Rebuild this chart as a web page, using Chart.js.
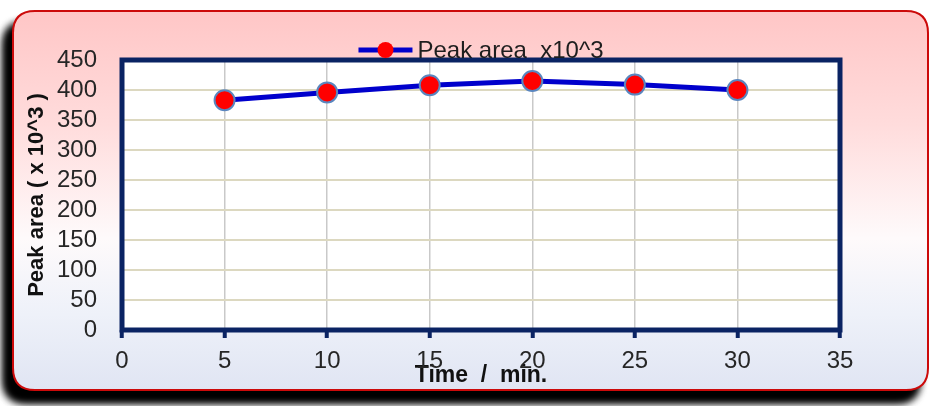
<!DOCTYPE html>
<html>
<head>
<meta charset="utf-8">
<script src="https://cdn.jsdelivr.net/npm/chart.js@4.4.1/dist/chart.umd.min.js"></script>
<style>
  html, body { margin: 0; padding: 0; background: #ffffff; }
  #wrap { width: 930px; height: 406px; position: relative; }
</style>
</head>
<body>
<div id="wrap"><canvas id="c" width="930" height="406"></canvas></div>
<script>
// Sampling times (min) and measured peak areas (x10^3)
const timeMinutes = [5, 10, 15, 20, 25, 30];
const peakArea = [383, 396, 408, 415, 409, 400];

// Axis tick values
const xTickValues = [0, 5, 10, 15, 20, 25, 30, 35];
const yTickValues = [0, 50, 100, 150, 200, 250, 300, 350, 400, 450];

// Text
const seriesLabel = 'Peak area  x10^3';
const xAxisTitle = 'Time  /  min.';
const yAxisTitle = 'Peak area ( x 10^3 )';

const NAVY = '#0a2363';
const TICK_FONT = { family: "'Liberation Sans', Arial, sans-serif", size: 24 };

function roundRect(ctx, x, y, w, h, r) {
  ctx.beginPath();
  ctx.moveTo(x + r, y);
  ctx.lineTo(x + w - r, y);
  ctx.quadraticCurveTo(x + w, y, x + w, y + r);
  ctx.lineTo(x + w, y + h - r);
  ctx.quadraticCurveTo(x + w, y + h, x + w - r, y + h);
  ctx.lineTo(x + r, y + h);
  ctx.quadraticCurveTo(x, y + h, x, y + h - r);
  ctx.lineTo(x, y + r);
  ctx.quadraticCurveTo(x, y, x + r, y);
  ctx.closePath();
}

// Panel background, plot frame and legend
const framePlugin = {
  id: 'frame',
  beforeDraw(chart) {
    const ctx = chart.ctx;
    const bx = 13, by = 11, bw = 915, bh = 379, br = 22;
    ctx.save();
    // drop shadow (lower-left)
    ctx.shadowColor = 'rgba(0,0,0,1)';
    ctx.shadowBlur = 9;
    ctx.shadowOffsetX = -9;
    ctx.shadowOffsetY = 12;
    roundRect(ctx, bx, by, bw, bh, br);
    ctx.fillStyle = '#000';
    ctx.fill();
    ctx.fill();
    ctx.restore();

    ctx.save();
    const g = ctx.createLinearGradient(0, by, 0, by + bh);
    g.addColorStop(0, '#ffc6c6');
    g.addColorStop(0.3, '#ffdcdc');
    g.addColorStop(0.6, '#fefafb');
    g.addColorStop(0.8, '#eef1f9');
    g.addColorStop(1, '#e0e5f3');
    roundRect(ctx, bx, by, bw, bh, br);
    ctx.fillStyle = g;
    ctx.fill();
    ctx.lineWidth = 2;
    ctx.strokeStyle = '#cc0a0a';
    ctx.stroke();

    const a = chart.chartArea;
    ctx.fillStyle = '#ffffff';
    ctx.fillRect(a.left, a.top, a.right - a.left, a.bottom - a.top);
    ctx.restore();
  },
  beforeDatasetsDraw(chart) {
    const ctx = chart.ctx;
    const a = chart.chartArea;
    ctx.save();
    ctx.lineWidth = 5;
    ctx.strokeStyle = NAVY;
    ctx.strokeRect(a.left, a.top, a.right - a.left, a.bottom - a.top);
    ctx.restore();
  },
  afterDraw(chart) {
    const ctx = chart.ctx;
    const a = chart.chartArea;
    const ds = chart.data.datasets[0];
    ctx.save();
    ctx.font = "24px 'Liberation Sans', Arial, sans-serif";
    const lineLen = 54, gap = 5;
    const textW = ctx.measureText(ds.label).width;
    const total = lineLen + gap + textW;
    const x0 = (a.left + a.right) / 2 - total / 2;
    const y0 = 50;
    ctx.strokeStyle = ds.borderColor;
    ctx.lineWidth = 5;
    ctx.beginPath();
    ctx.moveTo(x0, y0);
    ctx.lineTo(x0 + lineLen, y0);
    ctx.stroke();
    ctx.beginPath();
    ctx.arc(x0 + lineLen / 2, y0, 8, 0, Math.PI * 2);
    ctx.fillStyle = ds.pointBackgroundColor;
    ctx.fill();
    ctx.fillStyle = '#1e1e1e';
    ctx.textBaseline = 'middle';
    ctx.fillText(ds.label, x0 + lineLen + gap, y0 + 1);
    ctx.restore();
  }
};

new Chart(document.getElementById('c'), {
  type: 'line',
  data: {
    datasets: [{
      label: seriesLabel,
      data: timeMinutes.map((t, i) => ({ x: t, y: peakArea[i] })),
      borderColor: '#0000cc',
      borderWidth: 5,
      pointBackgroundColor: '#ff0000',
      pointBorderColor: '#5a86bf',
      pointBorderWidth: 2,
      pointRadius: 10,
      tension: 0
    }]
  },
  options: {
    responsive: false,
    devicePixelRatio: 1,
    animation: false,
    layout: { padding: { top: 60, right: 90, left: 0, bottom: 0 } },
    plugins: { legend: { display: false }, tooltip: { enabled: false } },
    scales: {
      x: {
        type: 'linear',
        min: 0,
        max: 35,
        afterBuildTicks(s) { s.ticks = xTickValues.map(v => ({ value: v })); },
        afterFit(s) { s.height = 76; },
        border: { display: false },
        grid: {
          color: '#c9c9c9',
          lineWidth: 1.5,
          drawTicks: true,
          tickLength: 8,
          tickColor: NAVY,
          tickWidth: 4
        },
        ticks: { font: TICK_FONT, color: '#262626', padding: 9, maxRotation: 0, autoSkip: false },
        title: {
          display: true,
          text: xAxisTitle,
          font: { family: "'Liberation Sans', Arial, sans-serif", size: 23, weight: 'bold' },
          color: '#111',
          padding: { top: 0, bottom: 17 }
        }
      },
      y: {
        min: 0,
        max: 450,
        afterBuildTicks(s) { s.ticks = yTickValues.map(v => ({ value: v })); },
        afterFit(s) { s.width = 122; },
        border: { display: false },
        grid: { color: '#dcd8c0', lineWidth: 2, drawTicks: false },
        ticks: { font: TICK_FONT, color: '#262626', padding: 25, autoSkip: false },
        title: {
          display: true,
          text: yAxisTitle,
          font: { family: "'Liberation Sans', Arial, sans-serif", size: 22, weight: 'bold' },
          color: '#111',
          padding: { top: 24, bottom: 0 }
        }
      }
    }
  },
  plugins: [framePlugin]
});
</script>
</body>
</html>
